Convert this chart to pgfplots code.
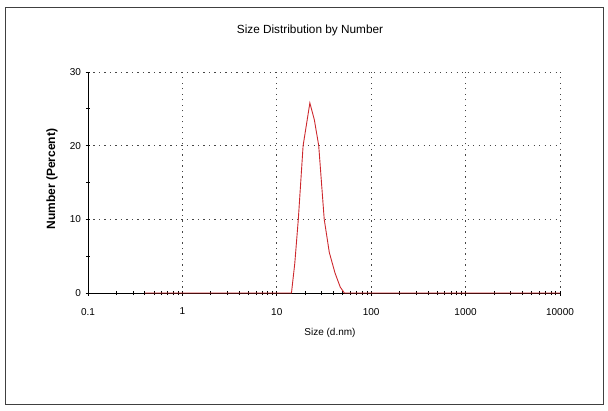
\documentclass[border=0pt]{standalone}
\usepackage{fontspec}
\setmainfont{Liberation Sans}
\usepackage{pgfplots}
\pgfplotsset{compat=1.18}
\definecolor{curvered}{RGB}{205,40,45}
\definecolor{griddot}{RGB}{70,70,70}
\begin{document}
\begin{tikzpicture}
\path[use as bounding box] (0pt,0pt) rectangle (608pt,410pt);
\draw[black!75, line width=1.3pt] (5.5pt,5.5pt) rectangle (603.5pt,402.5pt);
\node[font=\fontsize{11.8}{13}\selectfont] at (310pt,380pt) {Size Distribution by Number};
\begin{axis}[
  at={(88pt,117pt)}, anchor=south west,
  scale only axis, width=472pt, height=221pt,
  xmode=log, xmin=0.1, xmax=10000, ymin=0, ymax=30,
  axis x line=bottom, axis y line=left,
  axis line style={-, line width=0.9pt, black},
  xtick={0.1,1,10,100,1000,10000},
  xticklabels={0.1,1,10,100,1000,10000},
  ytick={0,10,20,30}, minor ytick={5,15,25},
  tick align=center,
  major tick length=5pt, minor tick length=4pt,
  tick style={black, line width=0.7pt},
  grid=major,
  major grid style={griddot, line width=0.9pt, dash pattern=on 1.1pt off 4.4pt},
  tick label style={font=\fontsize{10}{11}\selectfont},
  xticklabel style={yshift=-9pt},
  yticklabel style={xshift=-1pt},
  /pgf/number format/assume math mode=true,
  xlabel={Size (d.nm)},
  xlabel style={font=\fontsize{10}{11}\selectfont, at={(axis description cs:0.5127,-0.181)}, anchor=center},
  clip=false,
]
\addplot[curvered, line width=0.9pt] coordinates {
 (0.4,0) (1,0) (5,0) (13.5,0) (14.3,0) (15.5,4) (16.9,10) (19.0,20) (22.4,25.8)
 (25.0,23.5) (27.8,20) (31.8,10) (36,5.5) (41.4,2.7) (47,0.8) (52,0) (100,0) (1000,0) (10000,0)
};
\node[rotate=90, font=\bfseries\fontsize{12}{13}\selectfont] at (rel axis cs:-0.0763,0.515) {Number (Percent)};
\end{axis}
\end{tikzpicture}
\end{document}
